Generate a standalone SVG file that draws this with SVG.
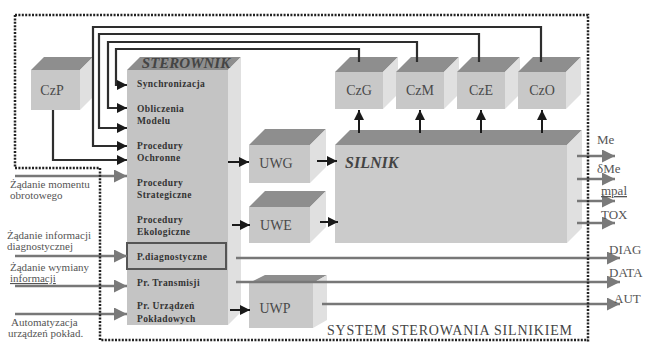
<svg xmlns="http://www.w3.org/2000/svg" width="645" height="343" viewBox="0 0 645 343">
<style>
.fr{fill:#c8c8c8}
.tp{fill:#8e8e8e}
.rt{fill:#e0e0e0}
.lbl{font-family:"Liberation Serif",serif;font-size:14px;fill:#4a4a4a;text-anchor:middle}
.it{font-family:"Liberation Serif",serif;font-weight:bold;font-style:italic;fill:#444}
.st{font-family:"Liberation Serif",serif;font-weight:bold;font-size:9.5px;letter-spacing:0.4px;fill:#333}
.side{font-family:"Liberation Serif",serif;font-size:11px;fill:#555}
.out{font-family:"Liberation Serif",serif;font-size:13px;fill:#555}
.fb{fill:none;stroke:#2e2e2e;stroke-width:2.2;marker-end:url(#blk)}
.ba{fill:none;stroke:#1a1a1a;stroke-width:2;marker-end:url(#blk)}
.ga{fill:none;stroke:#777;stroke-width:2.5;marker-end:url(#gry)}
.dot{fill:none;stroke:#222;stroke-width:2.5;stroke-dasharray:2 1.4}
</style>
<defs>
<marker id="blk" viewBox="0 0 10 10" refX="10" refY="5" markerWidth="11" markerHeight="10" markerUnits="userSpaceOnUse" orient="auto"><path d="M0,0 L10,5 L0,10 z" fill="#1a1a1a"/></marker>
<marker id="gry" viewBox="0 0 10 10" refX="10" refY="5" markerWidth="17" markerHeight="13" markerUnits="userSpaceOnUse" orient="auto"><path d="M0,0 L10,5 L0,10 z" fill="#7a7a7a"/></marker>
</defs>
<rect width="645" height="343" fill="#fff"/>

<g id="CzP">
<rect class="fr" x="31" y="70" width="49" height="40"/>
<polygon class="tp" points="31,70 44,57 93,57 80,70"/>
<polygon class="rt" points="80,70 93,57 93,97 80,110"/>
<text class="lbl" x="52" y="95">CzP</text>
</g>

<g id="STEROWNIK">
<rect x="127" y="70" width="101" height="255" fill="#c4c4c4"/>
<polygon class="tp" points="127,70 140,57 241,57 228,70"/>
<polygon class="rt" points="228,70 241,57 241,312 228,325"/>
<text class="it" x="186" y="68" font-size="15" text-anchor="middle" fill="#4a4a4a">STEROWNIK</text>
<text class="st" x="137" y="87">Synchronizacja</text>
<text class="st" x="137" y="112">Obliczenia</text>
<text class="st" x="137" y="124">Modelu</text>
<text class="st" x="137" y="149">Procedury</text>
<text class="st" x="137" y="161">Ochronne</text>
<text class="st" x="137" y="186">Procedury</text>
<text class="st" x="137" y="198">Strategiczne</text>
<text class="st" x="137" y="223">Procedury</text>
<text class="st" x="137" y="235">Ekologiczne</text>
<rect x="127" y="243" width="99" height="26" fill="none" stroke="#555" stroke-width="2"/>
<text class="st" x="137" y="260">P.diagnostyczne</text>
<text class="st" x="137" y="286">Pr. Transmisji</text>
<text class="st" x="137" y="309">Pr. Urządzeń</text>
<text class="st" x="137" y="322">Pokładowych</text>
</g>

<g id="CzG">
<rect class="fr" x="335" y="72" width="48" height="37"/>
<polygon class="tp" points="335,72 350,57 398,57 383,72"/>
<polygon class="rt" points="383,72 398,57 398,94 383,109"/>
<text class="lbl" x="359" y="95">CzG</text>
</g>
<g id="CzM">
<rect class="fr" x="396" y="72" width="48" height="37"/>
<polygon class="tp" points="396,72 411,57 459,57 444,72"/>
<polygon class="rt" points="444,72 459,57 459,94 444,109"/>
<text class="lbl" x="420" y="95">CzM</text>
</g>
<g id="CzE">
<rect class="fr" x="457" y="72" width="48" height="37"/>
<polygon class="tp" points="457,72 472,57 520,57 505,72"/>
<polygon class="rt" points="505,72 520,57 520,94 505,109"/>
<text class="lbl" x="481" y="95">CzE</text>
</g>
<g id="CzO">
<rect class="fr" x="518" y="72" width="48" height="37"/>
<polygon class="tp" points="518,72 533,57 581,57 566,72"/>
<polygon class="rt" points="566,72 581,57 581,94 566,109"/>
<text class="lbl" x="542" y="95">CzO</text>
</g>

<g id="SILNIK">
<rect x="335" y="145" width="232" height="98" fill="#cbcbcb"/>
<polygon class="tp" points="335,145 350,130 582,130 567,145"/>
<polygon class="rt" points="567,145 582,130 582,228 567,243"/>
<text class="it" x="345" y="168" font-size="16">SILNIK</text>
</g>

<g id="UWG">
<rect class="fr" x="249" y="145" width="61" height="38"/>
<polygon class="tp" points="249,145 265,129 326,129 310,145"/>
<polygon class="rt" points="310,145 326,129 326,167 310,183"/>
<text class="lbl" x="276" y="168">UWG</text>
</g>
<g id="UWE">
<rect class="fr" x="249" y="207" width="61" height="36"/>
<polygon class="tp" points="249,207 265,191 326,191 310,207"/>
<polygon class="rt" points="310,207 326,191 326,227 310,243"/>
<text class="lbl" x="276" y="230">UWE</text>
</g>
<g id="UWP">
<rect class="fr" x="249" y="283" width="64" height="45"/>
<polygon class="tp" points="249,283 265,275 327,275 313,283"/>
<polygon class="rt" points="313,283 327,275 327,320 313,328"/>
<text class="lbl" x="275" y="313">UWP</text>
</g>

<g id="connectors">
<path class="fb" d="M541,62 V27 H93 V146 H127"/>
<path class="fb" d="M479,62 V34 H99 V128 H127"/>
<path class="fb" d="M417,62 V42 H108 V108 H127"/>
<path class="fb" d="M359,62 V49 H116 V85 H127"/>
<path class="fb" d="M53,110 V160 H127"/>
<path class="ba" d="M228,162 H249"/>
<path class="ba" d="M317,161 H337"/>
<path class="ba" d="M232,225 H250"/>
<path class="ba" d="M320,222 H338"/>
<path class="ba" d="M230,310 H250"/>
<path class="ba" d="M359,133 V110"/>
<path class="ba" d="M420,133 V110"/>
<path class="ba" d="M481,133 V110"/>
<path class="ba" d="M542,133 V110"/>
<path class="ga" d="M15,176 H127"/>
<path class="ga" d="M15,256 H127"/>
<path class="ga" d="M15,286 H127"/>
<path class="ga" d="M15,314 H127"/>
<path class="ga" d="M577,156 H615"/>
<path class="ga" d="M577,179 H615"/>
<path class="ga" d="M577,201 H615"/>
<path class="ga" d="M577,223 H615"/>
<path class="ga" d="M236,258 H620"/>
<path class="ga" d="M236,282 H620"/>
<path class="ga" d="M322,304 H620"/>
</g>

<g id="border">
<path class="dot" d="M15,15 H588 V343"/>
<path class="dot" d="M15,15 V168 H100 V340 H588"/>
</g>

<g id="labels">
<text class="side" x="10" y="188">Żądanie momentu</text>
<text class="side" x="10" y="199">obrotowego</text>
<text class="side" x="7" y="239">Żądanie informacji</text>
<text class="side" x="7" y="250">diagnostycznej</text>
<text class="side" x="10" y="271">Żądanie wymiany</text>
<text class="side" x="10" y="282" text-decoration="underline">informacji</text>
<text class="side" x="11" y="326">Automatyzacja</text>
<text class="side" x="8" y="337">urządzeń pokład.</text>
<text class="out" x="597" y="144">Me</text>
<text class="out" x="597" y="173" font-size="12">δMe</text>
<text class="out" x="601" y="195" font-size="10" text-decoration="underline">mpal</text>
<text class="out" x="601" y="219">TOX</text>
<text class="out" x="609" y="254">DIAG</text>
<text class="out" x="609" y="277">DATA</text>
<text class="out" x="614" y="303">AUT</text>
<text x="327" y="335" font-family="Liberation Serif, serif" font-size="14" fill="#444" textLength="245" lengthAdjust="spacing">SYSTEM STEROWANIA SILNIKIEM</text>
</g>
</svg>
